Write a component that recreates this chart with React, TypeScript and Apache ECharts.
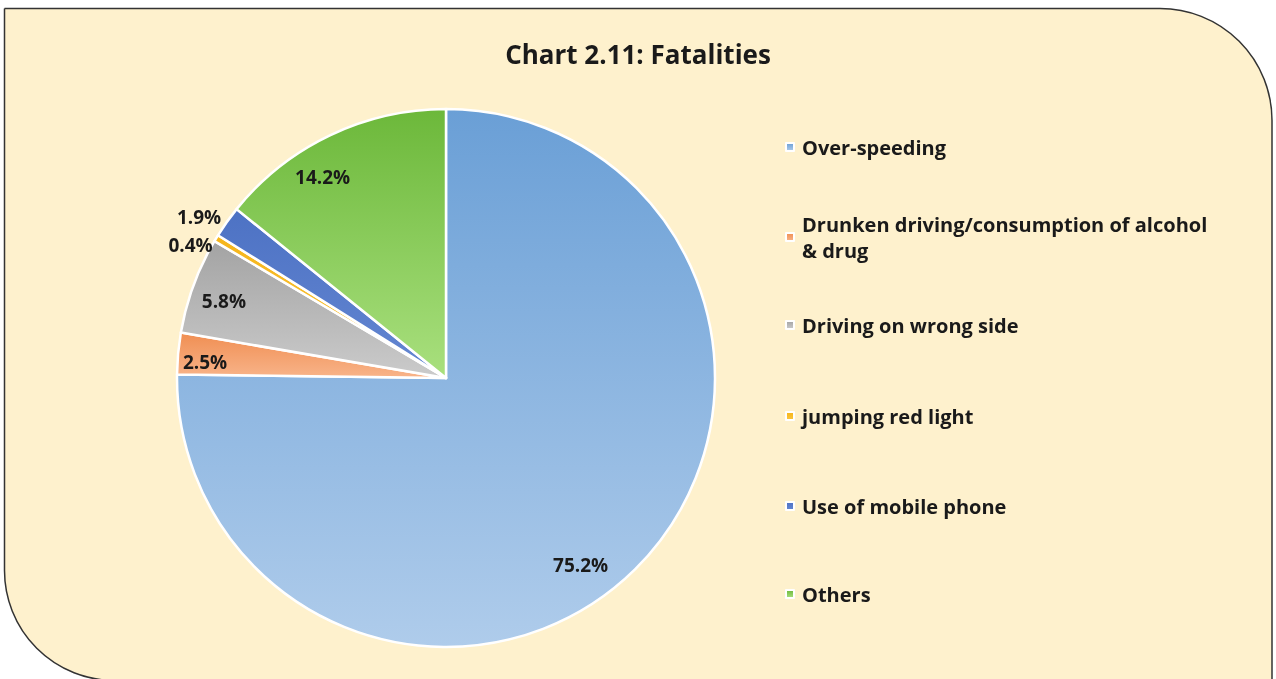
import React, { useEffect, useRef } from "react";
import * as echarts from "echarts";

const TITLE = "Chart 2.11: Fatalities";
const categories = [
  "Over-speeding",
  "Drunken driving/consumption of alcohol & drug",
  "Driving on wrong side",
  "jumping red light",
  "Use of mobile phone",
  "Others",
];
const legendLabels = [
  "Over-speeding",
  "Drunken driving/consumption of alcohol\n& drug",
  "Driving on wrong side",
  "jumping red light",
  "Use of mobile phone",
  "Others",
];
const values = [75.2, 2.5, 5.8, 0.4, 1.9, 14.2];

const App: React.FC = () => {
  const ref = useRef<HTMLDivElement>(null);

  useEffect(() => {
    if (!ref.current) return;
    const chart = echarts.init(ref.current, undefined, { renderer: "svg" });

    const colorStops: [string, string][] = [
      ["#6a9fd6", "#afcceb"],
      ["#f08e52", "#f8b48a"],
      ["#a3a3a3", "#cbcbcb"],
      ["#f5b51a", "#fbc640"],
      ["#4d72c4", "#6487d2"],
      ["#6cb83a", "#a9e07e"],
    ];
    const labelOffsets: [number, number][] = [
      [38, 89],
      [-104, -3],
      [-93, -30],
      [-138, -62],
      [-135, -81],
      [-64, -77],
    ];
    const fontFamily = "'Open Sans', 'DejaVu Sans', sans-serif";
    const legendCenters = [147, 237, 325, 416, 506, 594];
    const LH = 26;

    const legends = categories.map((name, i) => {
      const twoLine = legendLabels[i].indexOf("\n") >= 0;
      return {
        orient: "vertical",
        left: 785,
        top: legendCenters[i] - (twoLine ? LH * 1.5 : LH / 2),
        padding: 0,
        itemWidth: 8,
        itemHeight: 8,
        icon: "rect",
        selectedMode: false,
        formatter: () => legendLabels[i],
        textStyle: {
          fontFamily,
          fontWeight: "bold",
          fontSize: 20,
          color: "#1a1a1a",
          lineHeight: LH,
          padding: twoLine ? [LH, 0, 0, 3] : [0, 0, 0, 3],
        },
        data: [{ name }],
      };
    });

    chart.setOption({
      animation: false,
      backgroundColor: "transparent",
      title: {
        text: TITLE,
        left: "center",
        top: 36,
        textStyle: {
          fontFamily,
          fontWeight: "bold",
          fontSize: 26,
          color: "#1a1a1a",
        },
      },
      graphic: [
        {
          type: "rect",
          z: -10,
          silent: true,
          shape: { x: 4.5, y: 8.5, width: 1267.5, height: 672, r: [0, 112, 0, 110] },
          style: { fill: "#fef1cd", stroke: "#333333", lineWidth: 1.5 },
        },
      ],
      legend: legends,
      series: [
        {
          type: "pie",
          center: [446, 378],
          radius: [0, 269],
          startAngle: 90,
          clockwise: true,
          avoidLabelOverlap: false,
          itemStyle: { borderColor: "#ffffff", borderWidth: 2.5 },
          label: {
            show: true,
            position: "inside",
            formatter: (p: any) => p.value.toFixed(1) + "%",
            fontFamily,
            fontWeight: "bold",
            fontSize: 19,
            lineHeight: 19,
            color: "#1a1a1a",
          },
          labelLine: { show: false },
          emphasis: { disabled: true },
          data: categories.map((name, i) => ({
            name,
            value: values[i],
            itemStyle: {
              color: {
                type: "linear",
                x: 0,
                y: 0,
                x2: 0,
                y2: 1,
                colorStops: [
                  { offset: 0, color: colorStops[i][0] },
                  { offset: 1, color: colorStops[i][1] },
                ],
              },
            },
            label: { offset: labelOffsets[i] },
          })),
        },
      ],
    });

    return () => chart.dispose();
  }, []);

  return (
    <div
      ref={ref}
      style={{ position: "fixed", left: 0, top: 0, width: 1276, height: 679 }}
    />
  );
};

export default App;
